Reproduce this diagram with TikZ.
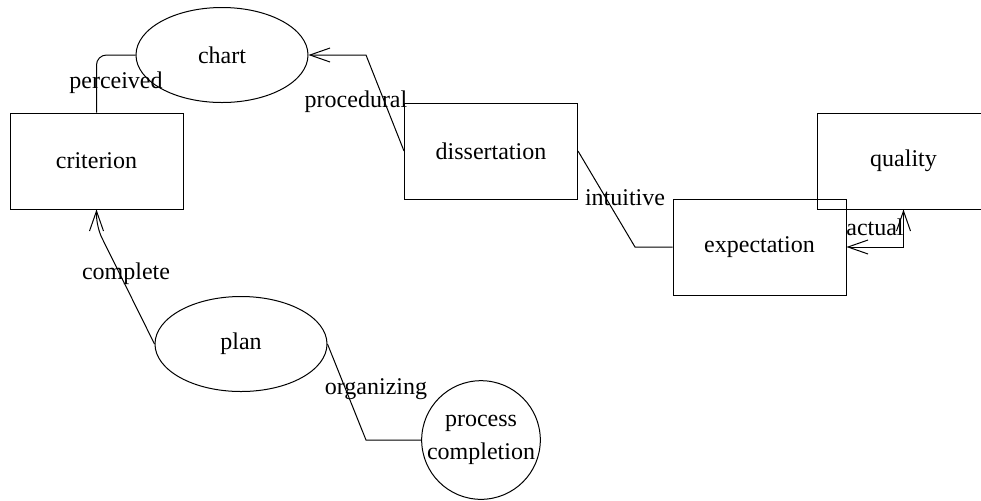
\documentclass[tikz,border=0pt]{standalone}
\usepackage{fontspec}
\setmainfont{Liberation Serif}
\usetikzlibrary{shapes.geometric,arrows.meta}
\tikzset{
  box/.style={draw, rectangle, minimum width=86.5pt, minimum height=48pt, inner sep=0pt},
  oval/.style={draw, ellipse, minimum width=86pt, minimum height=47.5pt, inner sep=0pt},
  ring/.style={draw, circle, minimum size=58pt, inner sep=0pt, align=center, font=\fontsize{12pt}{16.5pt}\selectfont},
  conn/.style={line width=0.5pt},
  barb/.style={-{Straight Barb[length=10pt,width=7pt]}},
  barbs/.style={{Straight Barb[length=10pt,width=7pt]}-{Straight Barb[length=10pt,width=7pt]}},
  lbl/.style={inner sep=0pt}
}
\begin{document}
\begin{tikzpicture}[x=0.5pt, y=-0.5pt, line width=0.5pt, font=\fontsize{12pt}{14pt}\selectfont]
    \useasboundingbox (0,0) rectangle (981,500);

    % Nodes
    \node[box] (criterion) at (96.5, 161) {criterion};
    \node[oval] (chart) at (222, 55) {chart};
    \node[box] (dissertation) at (491, 151) {dissertation};
    \node[box] (quality) at (903.5, 161) {quality};
    \node[box] (expectation) at (759.5, 247) {expectation};
    \node[oval] (plan) at (241, 344) {plan};
    \node[ring] (completion) at (481, 440) {process\\completion};

    % Bends
    \coordinate (b1) at (366, 55);
    \coordinate (b2) at (635, 247);
    \coordinate (b3) at (96.5, 227);
    \coordinate (b4) at (366, 440);

    % Connectors
    \draw[conn, rounded corners=5pt] (criterion.north) |- (chart.west);
    \draw[conn, barb] (dissertation.west) -- (b1) -- (chart.east);
    \draw[conn] (dissertation.east) -- (b2) -- (expectation.west);
    \draw[conn, barbs] (expectation.east) -| (quality.south);
    \draw[conn, barb, rounded corners=6pt] (plan.west) -- (b3) -- (criterion.south);
    \draw[conn] (plan.east) -- (b4) -- (completion.west);

    % Labels
    \node[lbl] (perceived) at (116, 83) {perceived};
    \node[lbl] (procedural) at (356, 102) {procedural};
    \node[lbl] (intuitive) at (625, 198) {intuitive};
    \node[lbl] (actual) at (875, 227) {actual};
    \node[lbl] (complete) at (126, 274) {complete};
    \node[lbl] (organizing) at (376, 389) {organizing};
\end{tikzpicture}
\end{document}
